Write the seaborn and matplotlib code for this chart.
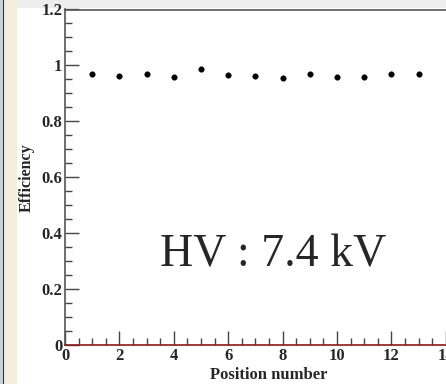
import matplotlib
matplotlib.use("Agg")
import matplotlib.pyplot as plt
import seaborn as sns
import pandas as pd
from matplotlib.ticker import MultipleLocator
from matplotlib.patches import Rectangle

positions = [1, 2, 3, 4, 5, 6, 7, 8, 9, 10, 11, 12, 13]
efficiency = [0.970, 0.961, 0.971, 0.957, 0.986, 0.965, 0.963, 0.954, 0.971, 0.958, 0.959, 0.969, 0.971]
x_label = "Position number"
y_label = "Efficiency"
annotation = "HV : 7.4 kV"
xtick_labels = ["0", "2", "4", "6", "8", "10", "12", "14"]
ytick_labels = ["0", "0.2", "0.4", "0.6", "0.8", "1", "1.2"]

df = pd.DataFrame({"pos": positions, "eff": efficiency})

sns.set_style("white")
plt.rcParams["font.family"] = ["Liberation Serif", "DejaVu Serif"]

fig = plt.figure(figsize=(4.46, 3.84), dpi=100)

# decorative background strips (slide border)
for rect in [
    Rectangle((0, 0), 17 / 446, 1, facecolor="#f3eddb"),
    Rectangle((0, 0), 4 / 446, 1, facecolor="#c9d3df"),
    Rectangle((2.5 / 446, 0), 1.5 / 446, 1, facecolor="#1f2d4a"),
    Rectangle((17 / 446, 1 - 8 / 384), 1, 8 / 384, facecolor="#ededed"),
]:
    rect.set_transform(fig.transFigure)
    rect.set_edgecolor("none")
    rect.set_zorder(-5)
    fig.patches.append(rect)

ax = fig.add_axes([65 / 446, 39 / 384, 408 / 446, 335.5 / 384])
ax.set_zorder(2)
ax.patch.set_alpha(0)
sns.scatterplot(data=df, x="pos", y="eff", ax=ax, color="black", s=16,
                edgecolor="black", linewidth=0.3, legend=False, zorder=3)

ax.set_xlim(0, 15)
ax.set_ylim(0, 1.2)
ax.set_xticks([0, 2, 4, 6, 8, 10, 12, 14])
ax.set_xticklabels(xtick_labels, fontweight="bold", fontsize=12)
ax.set_yticks([0, 0.2, 0.4, 0.6, 0.8, 1.0, 1.2])
ax.set_yticklabels(ytick_labels, fontweight="bold", fontsize=12)
ax.xaxis.set_minor_locator(MultipleLocator(0.5))
ax.yaxis.set_minor_locator(MultipleLocator(0.05))

ax.tick_params(axis="both", which="both", bottom=True, left=True, top=False, right=False)
ax.tick_params(axis="both", which="major", direction="in", length=10, width=1,
               color="#444444")
ax.tick_params(axis="both", which="minor", direction="in", length=5, width=1,
               color="#444444")
ax.tick_params(axis="x", which="major", pad=2)
ax.tick_params(axis="y", which="major", pad=2)

ax.set_xlabel(x_label, fontsize=12, fontweight="bold", labelpad=2)
ax.set_ylabel(y_label, fontsize=11.5, fontweight="bold", labelpad=5)

for side in ["left", "top", "right"]:
    ax.spines[side].set_color("#555555")
    ax.spines[side].set_linewidth(1.2)
ax.spines["bottom"].set_color("#8b1a1a")
ax.spines["bottom"].set_linewidth(1.2)

ax.text(7.65, 0.32, annotation, fontsize=33, ha="center", va="center",
        family=["Liberation Serif"])

fig.savefig("out.png", dpi=100)
